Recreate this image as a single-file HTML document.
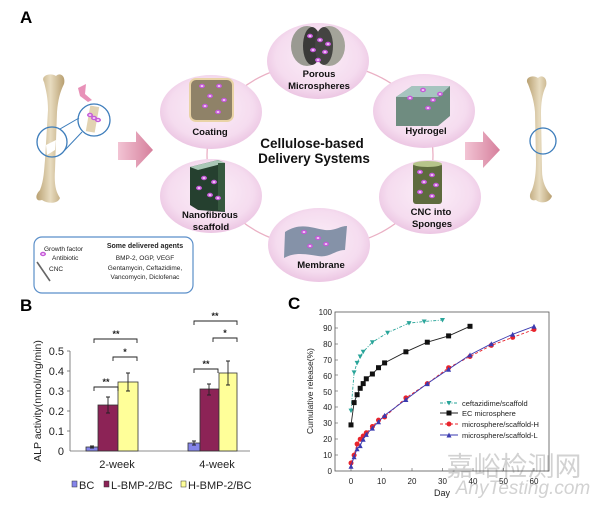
<!DOCTYPE html>
<html><head><meta charset="utf-8"><style>
html,body{margin:0;padding:0;background:#fff;}
svg{display:block;font-family:"Liberation Sans",Arial,sans-serif;}
</style></head><body>
<svg width="600" height="505" viewBox="0 0 600 505" xmlns="http://www.w3.org/2000/svg">
<defs>
<radialGradient id="pk" cx="50%" cy="45%" r="55%">
<stop offset="0" stop-color="#fbeef8"/><stop offset="0.75" stop-color="#f5dcef"/><stop offset="1" stop-color="#ecc6e3"/>
</radialGradient>
<linearGradient id="ar" x1="0" y1="0" x2="1" y2="0">
<stop offset="0" stop-color="#f2c4d4"/><stop offset="1" stop-color="#d67f9c"/>
</linearGradient>
<linearGradient id="bone" x1="0" y1="0" x2="1" y2="0">
<stop offset="0" stop-color="#b9a172"/><stop offset="0.5" stop-color="#e8dcc0"/><stop offset="1" stop-color="#b89f70"/>
</linearGradient>
<g id="dot"><ellipse rx="3" ry="2.2" fill="#c45ad8"/><ellipse rx="1.4" ry="1" fill="#f3c2f7"/></g>
<marker id="mT" markerWidth="6" markerHeight="6" refX="3" refY="3" markerUnits="userSpaceOnUse"><path d="M0.5,1 L5.5,1 L3,5.5Z" fill="#2aa59a"/></marker>
<marker id="mS" markerWidth="6" markerHeight="6" refX="3" refY="3" markerUnits="userSpaceOnUse"><rect x="0.5" y="0.5" width="5" height="5" fill="#111"/></marker>
<marker id="mC" markerWidth="6" markerHeight="6" refX="3" refY="3" markerUnits="userSpaceOnUse"><circle cx="3" cy="3" r="2.5" fill="#e8242c"/></marker>
<marker id="mU" markerWidth="6" markerHeight="6" refX="3" refY="3" markerUnits="userSpaceOnUse"><path d="M0.5,5.5 L5.5,5.5 L3,0.5Z" fill="#3a3ab0"/></marker>
</defs>

<!-- ===== A ===== -->
<text x="20" y="23" font-size="17" font-weight="bold">A</text>

<path d="M44,82 C40,76 50,72 56,76 C60,72 66,76 64,84 C60,92 58,100 57,112 L55,170 C54,185 56,192 60,198 C58,204 48,204 42,200 C36,202 34,196 40,190 C44,180 44,170 45,160 L48,110 C48,98 46,90 44,82Z" fill="url(#bone)"/>
<path d="M46,145 L56,140 L55,150 L47,155Z" fill="#fff"/>
<circle cx="52" cy="142" r="15" fill="none" stroke="#3d7dbb" stroke-width="1.3"/>
<circle cx="94" cy="120" r="16" fill="none" stroke="#3d7dbb" stroke-width="1.3"/>
<line x1="60" y1="129" x2="79" y2="118" stroke="#3d7dbb" stroke-width="1"/>
<line x1="64" y1="151" x2="82" y2="132" stroke="#3d7dbb" stroke-width="1"/>
<rect x="88" y="106" width="9" height="26" fill="#e2d3b2" transform="rotate(10 92 119)"/>
<path d="M78,88 L86,84 L85,94 L92,100 L88,102 L80,96Z" fill="#e891b8"/>
<use href="#dot" x="90" y="115"/><use href="#dot" x="94" y="118"/><use href="#dot" x="98" y="120"/>

<path d="M118,142 L136,142 L136,131 L153,150 L136,168 L136,160 L118,160Z" fill="url(#ar)"/>
<path d="M465,142 L483,142 L483,131 L500,150 L483,168 L483,160 L465,160Z" fill="url(#ar)"/>

<path d="M528,84 C524,78 532,74 538,78 C542,74 548,78 546,86 C542,94 541,104 541,114 L542,170 C542,182 546,190 552,196 C550,203 540,204 536,200 C530,202 528,196 532,190 C535,182 536,172 536,162 L535,112 C534,100 531,92 528,84Z" fill="url(#bone)"/>
<circle cx="543" cy="141" r="13" fill="none" stroke="#3d7dbb" stroke-width="1.3"/>

<ellipse cx="320" cy="155" rx="113" ry="92" fill="none" stroke="#eab0c4" stroke-width="1.3"/>

<ellipse cx="318" cy="61" rx="51" ry="38" fill="url(#pk)"/>
<ellipse cx="211" cy="112" rx="51" ry="37" fill="url(#pk)"/>
<ellipse cx="424" cy="111" rx="51" ry="37" fill="url(#pk)"/>
<ellipse cx="211" cy="196" rx="51" ry="37" fill="url(#pk)"/>
<ellipse cx="430" cy="197" rx="51" ry="37" fill="url(#pk)"/>
<ellipse cx="319" cy="245" rx="51" ry="37" fill="url(#pk)"/>

<ellipse cx="307" cy="46" rx="16" ry="20" fill="#9a9a92"/>
<ellipse cx="329" cy="46" rx="16" ry="20" fill="#a4a49a"/>
<ellipse cx="312" cy="46" rx="9" ry="19" fill="#3a3a38"/>
<ellipse cx="324" cy="46" rx="9" ry="19" fill="#444442"/>
<use href="#dot" x="310" y="36"/><use href="#dot" x="320" y="40"/><use href="#dot" x="313" y="50"/><use href="#dot" x="325" y="52"/><use href="#dot" x="318" y="60"/><use href="#dot" x="328" y="44"/>
<rect x="190" y="79" width="43" height="42" rx="6" fill="#8f8268" stroke="#e9d3a6" stroke-width="2"/>
<use href="#dot" x="202" y="86"/><use href="#dot" x="219" y="86"/><use href="#dot" x="210" y="96"/><use href="#dot" x="224" y="100"/><use href="#dot" x="205" y="106"/><use href="#dot" x="218" y="112"/>
<path d="M396,97 L412,86 L450,86 L450,116 L438,126 L396,126Z" fill="#6f8c80"/>
<path d="M396,97 L412,86 L450,86 L438,97Z" fill="#a6c4bf"/>
<use href="#dot" x="410" y="98"/><use href="#dot" x="423" y="90"/><use href="#dot" x="433" y="100"/><use href="#dot" x="440" y="94"/><use href="#dot" x="428" y="108"/>
<path d="M190,167 L218,160 L225,163 L225,212 L198,210 L190,205Z" fill="#25402f"/>
<path d="M190,167 L218,160 L225,163 L198,170Z" fill="#a9c7b6"/>
<path d="M218,163 L225,163 L225,212 L218,210Z" fill="#36593f"/>
<use href="#dot" x="204" y="178"/><use href="#dot" x="214" y="182"/><use href="#dot" x="199" y="188"/><use href="#dot" x="210" y="195"/><use href="#dot" x="218" y="198"/>
<rect x="413" y="163" width="29" height="41" rx="3" fill="#5e6b3e"/>
<ellipse cx="427.5" cy="164" rx="14.5" ry="3" fill="#b6c48a"/>
<use href="#dot" x="420" y="172"/><use href="#dot" x="432" y="175"/><use href="#dot" x="424" y="182"/><use href="#dot" x="436" y="185"/><use href="#dot" x="420" y="192"/><use href="#dot" x="432" y="196"/>
<path d="M285,232 C300,222 312,228 325,230 C335,231 340,226 347,226 L345,250 C335,250 330,258 318,256 C305,254 295,252 284,258Z" fill="#8592a8"/>
<use href="#dot" x="304" y="232"/><use href="#dot" x="318" y="238"/><use href="#dot" x="310" y="246"/><use href="#dot" x="326" y="244"/>

<g font-weight="bold" font-size="9.5" text-anchor="middle" fill="#111">
<text x="319" y="77">Porous</text><text x="319" y="89">Microspheres</text>
<text x="210" y="135">Coating</text>
<text x="426" y="134">Hydrogel</text>
<text x="210" y="218">Nanofibrous</text><text x="211" y="230">scaffold</text>
<text x="431" y="215">CNC into</text><text x="432" y="227">Sponges</text>
<text x="321" y="268">Membrane</text>
</g>
<g font-weight="bold" font-size="13.5" text-anchor="middle" fill="#111">
<text x="312" y="148">Cellulose-based</text><text x="314" y="163">Delivery Systems</text>
</g>

<rect x="34" y="237" width="159" height="56" rx="8" fill="#fff" stroke="#5b8fc9" stroke-width="1.2"/>
<g font-size="6.5" fill="#222">
<text x="44" y="251">Growth factor</text><text x="52" y="260">Antibiotic</text><text x="49" y="271">CNC</text>
<text x="145" y="248" text-anchor="middle" font-weight="bold" font-size="7">Some delivered agents</text>
<text x="145" y="260" text-anchor="middle">BMP-2, OGP, VEGF</text>
<text x="145" y="270" text-anchor="middle">Gentamycin, Ceftazidime,</text>
<text x="145" y="279" text-anchor="middle">Vancomycin, Diclofenac</text>
</g>
<use href="#dot" x="43" y="254"/>
<line x1="37" y1="262" x2="50" y2="281" stroke="#666" stroke-width="1.6"/>

<!-- ===== B ===== -->
<text x="20" y="311" font-size="17" font-weight="bold">B</text>
<g stroke="#666" stroke-width="0.8">
<line x1="70" y1="351" x2="70" y2="451"/><line x1="70" y1="451" x2="250" y2="451"/>
<line x1="67" y1="351" x2="70" y2="351"/><line x1="67" y1="371" x2="70" y2="371"/><line x1="67" y1="391" x2="70" y2="391"/><line x1="67" y1="411" x2="70" y2="411"/><line x1="67" y1="431" x2="70" y2="431"/>
</g>
<g font-size="11" text-anchor="end" fill="#222">
<text x="64" y="355">0.5</text><text x="64" y="375">0.4</text><text x="64" y="395">0.3</text><text x="64" y="415">0.2</text><text x="64" y="435">0.1</text><text x="64" y="455">0</text>
</g>
<text transform="translate(41,401) rotate(-90)" font-size="10.5" text-anchor="middle" fill="#222">ALP activity(nmol/mg/min)</text>
<g stroke="#333" stroke-width="0.8">
<rect x="86" y="447" width="12" height="4" fill="#8585ea"/>
<rect x="98" y="405" width="20" height="46" fill="#8c2356"/>
<rect x="118" y="382" width="20" height="69" fill="#ffff99"/>
<rect x="188" y="443" width="12" height="8" fill="#8585ea"/>
<rect x="200" y="389" width="19" height="62" fill="#8c2356"/>
<rect x="219" y="373" width="18" height="78" fill="#ffff99"/>
</g>
<g stroke="#222" stroke-width="0.9" fill="none">
<path d="M90,446 h4 M92,446 v2 M90,448 h4"/>
<path d="M106,397 h4 M108,397 v16 M106,413 h4"/>
<path d="M126,373 h4 M128,373 v18 M126,391 h4"/>
<path d="M192,441 h4 M194,441 v4 M192,445 h4"/>
<path d="M207,384 h4 M209,384 v11 M207,395 h4"/>
<path d="M226,361 h4 M228,361 v24 M226,385 h4"/>
<path d="M94,343 v-4 h43 v4"/>
<path d="M113,361 v-4 h24 v4"/>
<path d="M94,391 v-4 h24 v4"/>
<path d="M194,325 v-4 h43 v4"/>
<path d="M213,342 v-4 h24 v4"/>
<path d="M194,373 v-4 h24 v4"/>
</g>
<g font-size="9" font-weight="bold" text-anchor="middle" fill="#222">
<text x="116" y="337">**</text><text x="125" y="355">*</text><text x="106" y="385">**</text>
<text x="215" y="319">**</text><text x="225" y="336">*</text><text x="206" y="367">**</text>
</g>
<g font-size="11" text-anchor="middle" fill="#222">
<text x="117" y="468">2-week</text><text x="217" y="468">4-week</text>
</g>
<g font-size="11" fill="#222">
<rect x="72" y="481" width="5" height="6" fill="#8585ea" stroke="#333" stroke-width="0.5"/><text x="79" y="489">BC</text>
<rect x="104" y="481" width="5" height="6" fill="#8c2356" stroke="#333" stroke-width="0.5"/><text x="111" y="489">L-BMP-2/BC</text>
<rect x="181" y="481" width="5" height="6" fill="#ffff99" stroke="#333" stroke-width="0.5"/><text x="188" y="489">H-BMP-2/BC</text>
</g>

<!-- ===== C ===== -->
<text x="288" y="309" font-size="17" font-weight="bold">C</text>

<!-- watermark (behind plot) -->
<text x="514" y="476" font-size="27" fill="#d2d2d2" text-anchor="middle" font-family="'Liberation Sans','Noto Sans CJK SC',sans-serif">嘉峪检测网</text>
<text x="523" y="494" font-size="19" fill="#d2d2d2" text-anchor="middle" font-style="italic">AnyTesting.com</text>

<rect x="335" y="312" width="214" height="159" fill="none" stroke="#555" stroke-width="0.8"/>
<g font-size="8" text-anchor="end" fill="#222">
<text x="332" y="315">100</text><text x="332" y="331">90</text><text x="332" y="347">80</text><text x="332" y="363">70</text><text x="332" y="379">60</text><text x="332" y="395">50</text><text x="332" y="410">40</text><text x="332" y="426">30</text><text x="332" y="442">20</text><text x="332" y="458">10</text><text x="332" y="474">0</text>
</g>
<g stroke="#555" stroke-width="0.6">
<line x1="335" y1="328" x2="338" y2="328"/><line x1="335" y1="344" x2="338" y2="344"/><line x1="335" y1="360" x2="338" y2="360"/><line x1="335" y1="375" x2="338" y2="375"/><line x1="335" y1="391" x2="338" y2="391"/><line x1="335" y1="407" x2="338" y2="407"/><line x1="335" y1="423" x2="338" y2="423"/><line x1="335" y1="439" x2="338" y2="439"/><line x1="335" y1="455" x2="338" y2="455"/>
<line x1="351" y1="471" x2="351" y2="468"/><line x1="381.5" y1="471" x2="381.5" y2="468"/><line x1="412" y1="471" x2="412" y2="468"/><line x1="442.5" y1="471" x2="442.5" y2="468"/><line x1="473" y1="471" x2="473" y2="468"/><line x1="503.5" y1="471" x2="503.5" y2="468"/><line x1="534" y1="471" x2="534" y2="468"/>
</g>
<g font-size="8" text-anchor="middle" fill="#222">
<text x="351" y="484">0</text><text x="381.5" y="484">10</text><text x="412" y="484">20</text><text x="442.5" y="484">30</text><text x="473" y="484">40</text><text x="503.5" y="484">50</text><text x="534" y="484">60</text>
<text x="442" y="496" font-size="9">Day</text>
</g>
<text transform="translate(313,391) rotate(-90)" font-size="8.5" text-anchor="middle" fill="#222">Cumulative release(%)</text>

<polyline fill="none" stroke="#2aa59a" stroke-width="0.9" stroke-dasharray="3,1.5,1,1.5" marker-start="url(#mT)" marker-mid="url(#mT)" marker-end="url(#mT)" points="351,410.6 354.1,372.4 357.1,362.9 360.2,356.5 363.2,351.8 372.4,342.2 387.6,332.7 409,323.1 424.2,321.5 442.5,320"/>
<polyline fill="none" stroke="#222" stroke-width="0.9" marker-start="url(#mS)" marker-mid="url(#mS)" marker-end="url(#mS)" points="351,424.9 354.1,402.6 357.1,394.7 360.2,388.3 363.2,383.6 366.3,378.8 372.4,374 378.5,367.7 384.6,362.9 405.9,351.8 427.3,342.2 448.6,335.9 470,326.3"/>
<polyline fill="none" stroke="#e8242c" stroke-width="0.9" stroke-dasharray="3,2" marker-start="url(#mC)" marker-mid="url(#mC)" marker-end="url(#mC)" points="351,463 354.1,455.1 357.1,444 360.2,439.2 363.2,436 366.3,432.8 372.4,426.5 378.5,420.1 384.6,417 405.9,397.9 427.3,383.6 448.6,367.7 470,356.5 491.3,345.4 512.7,337.4 534,329.5"/>
<polyline fill="none" stroke="#3a3ab0" stroke-width="0.9" marker-start="url(#mU)" marker-mid="url(#mU)" marker-end="url(#mU)" points="351,466.2 354.1,456.7 357.1,448.7 360.2,445.6 363.2,439.2 366.3,434.4 372.4,428.1 378.5,421.7 384.6,415.4 405.9,399.5 427.3,383.6 448.6,369.2 470,354.9 491.3,343.8 512.7,334.3 534,326.3"/>

<g font-size="7.5" fill="#222">
<line x1="440" y1="403" x2="458" y2="403" stroke="#2aa59a" stroke-dasharray="3,1.5,1,1.5"/><path d="M446.5,401 L451.5,401 L449,405.5Z" fill="#2aa59a"/><text x="462" y="406">ceftazidime/scaffold</text>
<line x1="440" y1="413" x2="458" y2="413" stroke="#222"/><rect x="446.5" y="410.5" width="5" height="5" fill="#111"/><text x="462" y="416">EC microsphere</text>
<line x1="440" y1="424" x2="458" y2="424" stroke="#e8242c" stroke-dasharray="3,2"/><circle cx="449" cy="424" r="2.5" fill="#e8242c"/><text x="462" y="427">microsphere/scaffold-H</text>
<line x1="440" y1="435" x2="458" y2="435" stroke="#3a3ab0"/><path d="M446.5,437.5 L451.5,437.5 L449,432.5Z" fill="#3a3ab0"/><text x="462" y="438">microsphere/scaffold-L</text>
</g>
</svg>
</body></html>
